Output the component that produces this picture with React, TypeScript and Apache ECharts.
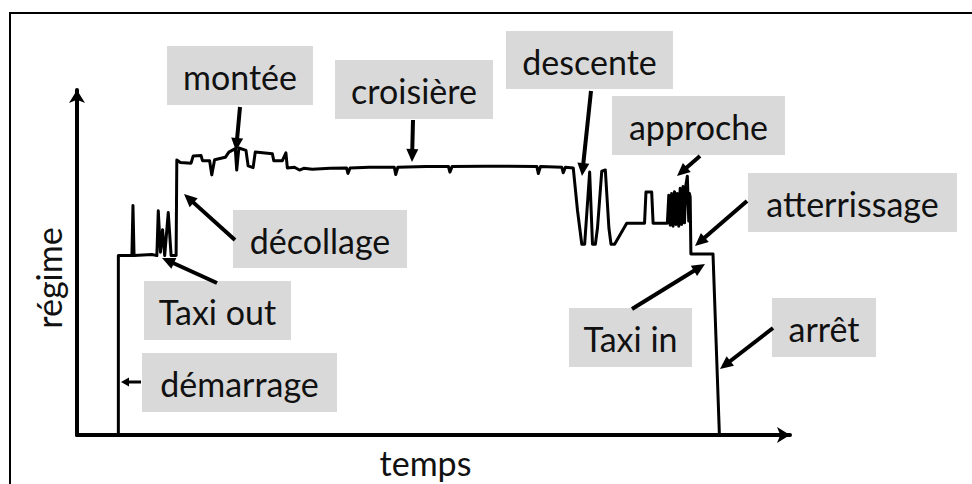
import React, { useEffect, useRef } from "react";
import * as echarts from "echarts";

// temps (0-100) and régime (0-100)
const temps: number[] = [
  5.8, 5.8, 7.7, 7.85, 8.0, 10.5, 11.2, 11.4, 11.7, 12.0, 12.3, 12.8, 13.2, 13.9,
  14.0, 14.5, 16.0, 16.3, 17.4, 17.6, 18.6, 18.9, 19.3, 20.8, 21.3, 22.2, 22.4, 22.7,
  23.7, 24.0, 24.7, 25.0, 27.4, 27.6, 28.8, 29.3, 29.5,
  30.5, 31.2, 31.8, 33.0, 35.5, 37.8, 38.0, 38.3, 41.0, 44.5, 44.7, 45.0, 49.0, 52.1,
  52.3, 52.6, 57.0, 60.5, 64.5, 64.7, 65.0, 68.0, 68.2, 68.5, 69.6,
  70.2, 70.8, 71.2, 71.9, 72.3, 72.7, 73.0, 73.6, 74.1, 74.6, 74.9, 75.4, 77.1, 79.6, 79.8,
  80.6, 80.8, 82.8,
  83.0, 83.2, 83.4, 83.6, 83.8, 84.0, 84.2, 84.4, 84.6, 84.8, 85.0, 85.2, 85.4, 85.6,
  85.8, 85.9, 86.0, 86.1, 89.2, 90.1,
];
const regime: number[] = [
  0, 52, 52, 66.5, 52, 52.3, 52, 65, 53, 59.5, 52, 64.5, 52, 52,
  79.7, 79, 78.8, 80.9, 81, 79.5, 79.5, 75.4, 79.8, 80.5, 82, 83, 76.8, 83.2,
  82.5, 78, 77.5, 82, 81.5, 79.5, 79.5, 81.8, 77.4,
  77.6, 76.8, 77.3, 77.0, 77.3, 77.4, 75.8, 77.4, 77.6, 77.6, 75.5, 77.6, 77.8, 77.8,
  76.2, 77.8, 77.9, 77.9, 77.8, 75.8, 77.8, 77.6, 76.0, 77.6, 77.4,
  65, 55.3, 55.3, 76.2, 55.3, 55.3, 60, 76.5, 76.8, 60, 55.3, 55.3, 61.4, 61.4, 70.4,
  70.4, 61.4, 61.4,
  69.5, 60.8, 70, 60.5, 70.5, 61, 70, 60.5, 71.5, 61, 72, 61.5, 72.5, 75,
  62, 70, 69, 52.5, 52.5, 0,
];

// phase labels
const phaseLabels: string[] = [
  "montée", "croisière", "descente", "approche", "atterrissage",
  "décollage", "Taxi out", "Taxi in", "arrêt", "démarrage",
];

// annotation layout (pixels): label boxes and arrows (start -> tip)
const boxLayout = [
  { x0: 167, y0: 46, x1: 313, y1: 105 },
  { x0: 335, y0: 60, x1: 493, y1: 119 },
  { x0: 506, y0: 31, x1: 673, y1: 89 },
  { x0: 612, y0: 96, x1: 785, y1: 155 },
  { x0: 748, y0: 173, x1: 957, y1: 232 },
  { x0: 233, y0: 210, x1: 407, y1: 268 },
  { x0: 144, y0: 281, x1: 291, y1: 340 },
  { x0: 569, y0: 308, x1: 692, y1: 367 },
  { x0: 772, y0: 298, x1: 876, y1: 357 },
  { x0: 142, y0: 353, x1: 337, y1: 412 },
];
const arrowLayout = [
  { x1: 240, y1: 107, x2: 236, y2: 151, small: false },
  { x1: 413, y1: 120, x2: 412, y2: 162, small: false },
  { x1: 591, y1: 91, x2: 582, y2: 176, small: false },
  { x1: 700, y1: 156, x2: 677, y2: 176, small: false },
  { x1: 747, y1: 201, x2: 695, y2: 246, small: false },
  { x1: 235, y1: 240, x2: 184, y2: 194, small: false },
  { x1: 217, y1: 283, x2: 162, y2: 258, small: false },
  { x1: 632, y1: 309, x2: 705, y2: 264, small: false },
  { x1: 773, y1: 328, x2: 720, y2: 369, small: false },
  { x1: 141, y1: 382, x2: 121, y2: 382, small: true },
];

function arrow(a: { x1: number; y1: number; x2: number; y2: number; small: boolean }) {
  const dx = a.x2 - a.x1;
  const dy = a.y2 - a.y1;
  const len = Math.sqrt(dx * dx + dy * dy);
  const ux = dx / len;
  const uy = dy / len;
  const L = a.small ? 8 : 13;
  const W = a.small ? 9 : 12;
  const bx = a.x2 - ux * L;
  const by = a.y2 - uy * L;
  const px = -uy * (W / 2);
  const py = ux * (W / 2);
  return [
    {
      type: "line",
      shape: { x1: a.x1, y1: a.y1, x2: bx + ux * 2, y2: by + uy * 2 },
      style: { stroke: "#000", lineWidth: a.small ? 3 : 4 },
      silent: true,
    },
    {
      type: "polygon",
      shape: {
        points: [
          [a.x2, a.y2],
          [bx + px, by + py],
          [bx - px, by - py],
        ],
      },
      style: { fill: "#000" },
      silent: true,
    },
  ];
}

export default function App() {
  const ref = useRef<HTMLDivElement>(null);

  useEffect(() => {
    if (!ref.current) return;
    const chart = echarts.init(ref.current, undefined, { renderer: "svg" });

    const graphics: any[] = [
      {
        type: "rect",
        shape: { x: 10, y: 13, width: 990, height: 520 },
        style: { fill: "none", stroke: "#000", lineWidth: 2 },
        silent: true,
        z: 0,
      },
      {
        type: "text",
        x: 48,
        y: 278,
        rotation: Math.PI / 2,
        style: {
          text: "régime",
          fontSize: 34,
          fontFamily: "Lato",
          fill: "#111",
          align: "center",
          verticalAlign: "middle",
        },
        silent: true,
      },
    ];
    phaseLabels.forEach((label, i) => {
      const b = boxLayout[i];
      graphics.push({
        type: "rect",
        shape: { x: b.x0, y: b.y0, width: b.x1 - b.x0, height: b.y1 - b.y0 },
        style: { fill: "#d9d9d9" },
        silent: true,
      });
      graphics.push({
        type: "text",
        x: (b.x0 + b.x1) / 2,
        y: (b.y0 + b.y1) / 2 + 1,
        style: {
          text: label,
          fontSize: 34,
          fontFamily: "Lato",
          fill: "#111",
          align: "center",
          verticalAlign: "middle",
        },
        silent: true,
      });
    });
    arrowLayout.forEach((a) => graphics.push(...arrow(a)));

    chart.setOption({
      animation: false,
      backgroundColor: "#fff",
      grid: { left: 77, right: 182, top: 90, bottom: 49, containLabel: false, outerBoundsMode: "none" },
      xAxis: {
        type: "value",
        min: 0,
        max: 100,
        name: "temps",
        nameLocation: "middle",
        nameGap: 10,
        nameTextStyle: { fontSize: 34, fontFamily: "Lato", color: "#111", padding: [0, 16, 0, 0] },
        axisLine: { show: true, symbol: ["none", "arrow"], symbolSize: [12, 13], lineStyle: { color: "#000", width: 4 } },
        axisTick: { show: false },
        axisLabel: { show: false },
        splitLine: { show: false },
      },
      yAxis: {
        type: "value",
        min: 0,
        max: 100,
        axisLine: { show: true, symbol: ["none", "arrow"], symbolSize: [12, 13], lineStyle: { color: "#000", width: 4 } },
        axisTick: { show: false },
        axisLabel: { show: false },
        splitLine: { show: false },
      },
      series: [
        {
          type: "line",
          data: temps.map((t, i) => [t, regime[i]]),
          symbol: "none",
          showSymbol: false,
          silent: true,
          lineStyle: { color: "#000", width: 3, join: "round" },
          z: 3,
        },
      ],
      graphic: graphics,
    });

    return () => chart.dispose();
  }, []);

  return (
    <div
      ref={ref}
      style={{ position: "fixed", left: 0, top: 0, width: 972, height: 484 }}
    />
  );
}
